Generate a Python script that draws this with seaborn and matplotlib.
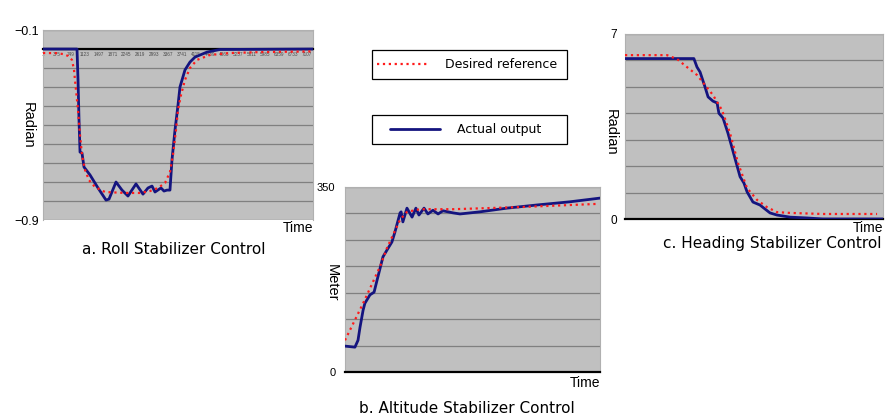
import numpy as np
import matplotlib
matplotlib.use("Agg")
import matplotlib.pyplot as plt
from matplotlib.patches import Rectangle
import seaborn as sns

sns.set_style("white")
plt.rcParams['font.family'] = ['Liberation Sans', 'DejaVu Sans']
plt.rcParams['text.color'] = 'black'
plt.rcParams['axes.labelcolor'] = 'black'

# ---------------- data ----------------
# a. Roll stabilizer (time index, radian)
roll_time_tick_labels = [1, 375, 749, 1123, 1497, 1871, 2245, 2619, 2993, 3367,
                         3741, 4115, 4489, 4863, 5237, 5611, 5985, 6359, 6733, 7107]
roll_actual_t = [1, 916, 943, 970, 997, 1050, 1104, 1265, 1481, 1696,
                 1777, 1965, 2126, 2287, 2503, 2691, 2826, 2934, 3014, 3175,
                 3256, 3337, 3417, 3471, 3552, 3633, 3686, 3821, 3955, 4090,
                 4413, 4763, 7265]
roll_actual = [-0.178, -0.178, -0.308, -0.477, -0.612, -0.616, -0.675, -0.708, -0.763, -0.814,
               -0.810, -0.738, -0.772, -0.797, -0.746, -0.789, -0.763, -0.755, -0.780, -0.763,
               -0.776, -0.772, -0.772, -0.645, -0.519, -0.414, -0.338, -0.266, -0.233, -0.212,
               -0.191, -0.180, -0.178]
roll_desired_t = [1, 324, 539, 674, 781, 835, 889, 943, 997, 1050,
                  1131, 1238, 1400, 1669, 2207, 2610, 2879, 3095, 3283, 3417,
                  3498, 3579, 3633, 3713, 3821, 3955, 4143, 4493, 5031, 5838, 7265]
roll_desired = [-0.195, -0.195, -0.199, -0.207, -0.224, -0.266, -0.351, -0.435, -0.540, -0.624,
                -0.687, -0.730, -0.759, -0.780, -0.784, -0.784, -0.776, -0.763, -0.742, -0.696,
                -0.624, -0.519, -0.435, -0.372, -0.308, -0.258, -0.224, -0.203, -0.195, -0.191, -0.188]

# b. Altitude stabilizer (time %, meter)
alt_actual_t = [0, 3.9, 5.1, 5.9, 7.1, 7.8, 9.8, 11.4, 12.9, 14.9,
                16.5, 18.4, 19.6, 21.6, 22.0, 22.7, 24.3, 26.3, 27.8, 29.0,
                31.0, 32.5, 34.5, 36.5, 38.4, 42.4, 45.1, 52.9, 63.5, 75.3, 88.2, 100]
alt_actual = [49, 47, 60, 85, 117, 130, 146, 151, 180, 218,
              231, 246, 265, 301, 303, 284, 310, 293, 310, 297,
              310, 299, 306, 299, 305, 301, 299, 303, 310, 316, 322, 329]
alt_desired_t = [0, 7.1, 13.7, 16.5, 21.6, 24.3, 29.4, 42.4, 68.6, 98.8]
alt_desired = [60, 130, 199, 235, 288, 303, 308, 308, 312, 318]

# c. Heading stabilizer (time %, radian)
head_actual_t = [0, 26.7, 27.9, 29.1, 31.0, 32.2, 34.1, 35.7, 36.4, 38.0,
                 39.9, 41.9, 44.6, 46.1, 47.3, 49.6, 52.3, 56.2, 58.9, 64.0,
                 70.5, 76.7, 100]
head_actual = [6.07, 6.07, 5.75, 5.56, 5.0, 4.62, 4.46, 4.39, 4.0, 3.82,
               3.25, 2.55, 1.6, 1.36, 1.03, 0.64, 0.53, 0.23, 0.15, 0.07,
               0.04, 0.0, 0.0]
head_desired_t = [0, 16.3, 20.2, 24.0, 27.9, 31.0, 34.1, 37.6, 40.7, 43.8,
                  47.3, 51.2, 55.0, 58.9, 64.0, 76.7, 97.7]
head_desired = [6.2, 6.2, 6.05, 5.75, 5.45, 5.07, 4.69, 4.12, 3.25, 2.12,
                1.17, 0.72, 0.45, 0.26, 0.23, 0.19, 0.19]

# ---------------- style ----------------
BG = '#c0c0c0'
GRID = '#808080'
BLUE = '#14147f'
RED = '#ff1a1a'
W, H = 887, 419

fig = plt.figure(figsize=(W / 100, H / 100), dpi=100)
axA = fig.add_axes([43 / W, 1 - 220.5 / H, 270 / W, 190 / H])
axB = fig.add_axes([345 / W, 1 - 372 / H, 255 / W, 185 / H])
axC = fig.add_axes([625 / W, 1 - 219 / H, 258 / W, 185 / H])


def style(ax, ylo, yhi, n, labels, pad, fs):
    ax.set_facecolor(BG)
    ax.set_ylim(ylo, yhi)
    ax.set_yticks(np.linspace(ylo, yhi, n + 1))
    lab = [''] * (n + 1)
    lab[0], lab[-1] = labels
    ax.set_yticklabels(lab, fontsize=fs, color='black')
    ax.tick_params(axis='y', length=0, pad=pad)
    ax.grid(axis='y', color=GRID, lw=0.9)
    ax.set_axisbelow(True)
    for s in ['top', 'right', 'left']:
        ax.spines[s].set_color('#b0b0b0')
        ax.spines[s].set_linewidth(0.8)
    ax.spines['bottom'].set_color('black')
    ax.spines['bottom'].set_linewidth(1.6)


def curves(ax, ta, ya, td, yd):
    sns.lineplot(x=ta, y=ya, ax=ax, color=BLUE, lw=2.0, estimator=None,
                 sort=False, zorder=3)
    sns.lineplot(x=td, y=yd, ax=ax, color=RED, lw=1.6, linestyle=':',
                 estimator=None, sort=False, zorder=4)
    ax.set_xlabel('')
    ax.set_ylabel('')


# panel a
curves(axA, roll_actual_t, roll_actual, roll_desired_t, roll_desired)
style(axA, -0.9, -0.1, 10, ['\u22120.9', '\u22120.1'], 3, 9)
axA.set_xlim(1, 7265)
axA.spines['bottom'].set_position(('data', -0.18))
axA.set_xticks(roll_time_tick_labels)
axA.set_xticklabels([str(v) for v in roll_time_tick_labels], fontsize=3.3, color='#4a4a4a')
axA.tick_params(axis='x', length=0, pad=2)

# panel b
curves(axB, alt_actual_t, alt_actual, alt_desired_t, alt_desired)
style(axB, 0, 350, 7, ['0', '350'], 7, 8)
axB.set_xlim(0, 100)
axB.set_xticks([])

# panel c
curves(axC, head_actual_t, head_actual, head_desired_t, head_desired)
style(axC, 0, 7, 7, ['0', '7'], 6, 8.5)
axC.set_xlim(0, 100)
axC.set_xticks([])

# axis labels
for ax, lab, xc, yc in [(axA, 'Radian', -0.056, 0.50),
                        (axB, 'Meter', -0.051, 0.48),
                        (axC, 'Radian', -0.054, 0.47)]:
    ax.set_ylabel(lab, rotation=270, fontsize=10.5, va='center', ha='center', color='black')
    ax.yaxis.set_label_coords(xc, yc)

for ax, yc in [(axA, -0.04), (axB, -0.057), (axC, -0.051)]:
    ax.text(1.0, yc, 'Time', transform=ax.transAxes, ha='right', va='center',
            fontsize=10, color='black')

# captions
cap = dict(ha='center', va='center', fontsize=11, family=['DejaVu Sans'], color='black')
fig.text(174 / W, 1 - 249 / H, 'a. Roll Stabilizer Control', **cap)
fig.text(467 / W, 1 - 408 / H, 'b. Altitude Stabilizer Control', **cap)
fig.text(772 / W, 1 - 243 / H, 'c. Heading Stabilizer Control', **cap)

# legend boxes
red_line = axA.lines[1]
blue_line = axA.lines[0]
for y_top in [50, 115]:
    fig.patches.append(Rectangle((372 / W, 1 - (y_top + 29) / H), 195 / W, 29 / H,
                                 transform=fig.transFigure, fill=False,
                                 edgecolor='black', lw=0.9))
fs_leg = 9
leg1 = fig.legend(handles=[red_line], labels=['Desired reference'], loc='center left',
                  bbox_to_anchor=(377 / W, 1 - 64.5 / H), frameon=False, borderpad=0,
                  borderaxespad=0, handlelength=53 / 12.5, handletextpad=15 / 12.5,
                  prop=dict(family='DejaVu Sans', size=fs_leg))
leg2 = fig.legend(handles=[blue_line], labels=['Actual output'], loc='center left',
                  bbox_to_anchor=(390 / W, 1 - 129.5 / H), frameon=False, borderpad=0,
                  borderaxespad=0, handlelength=50 / 12.5, handletextpad=17 / 12.5,
                  prop=dict(family='DejaVu Sans', size=fs_leg))
for lg in (leg1, leg2):
    for t in lg.get_texts():
        t.set_color('black')

fig.savefig('out.png', dpi=100)
